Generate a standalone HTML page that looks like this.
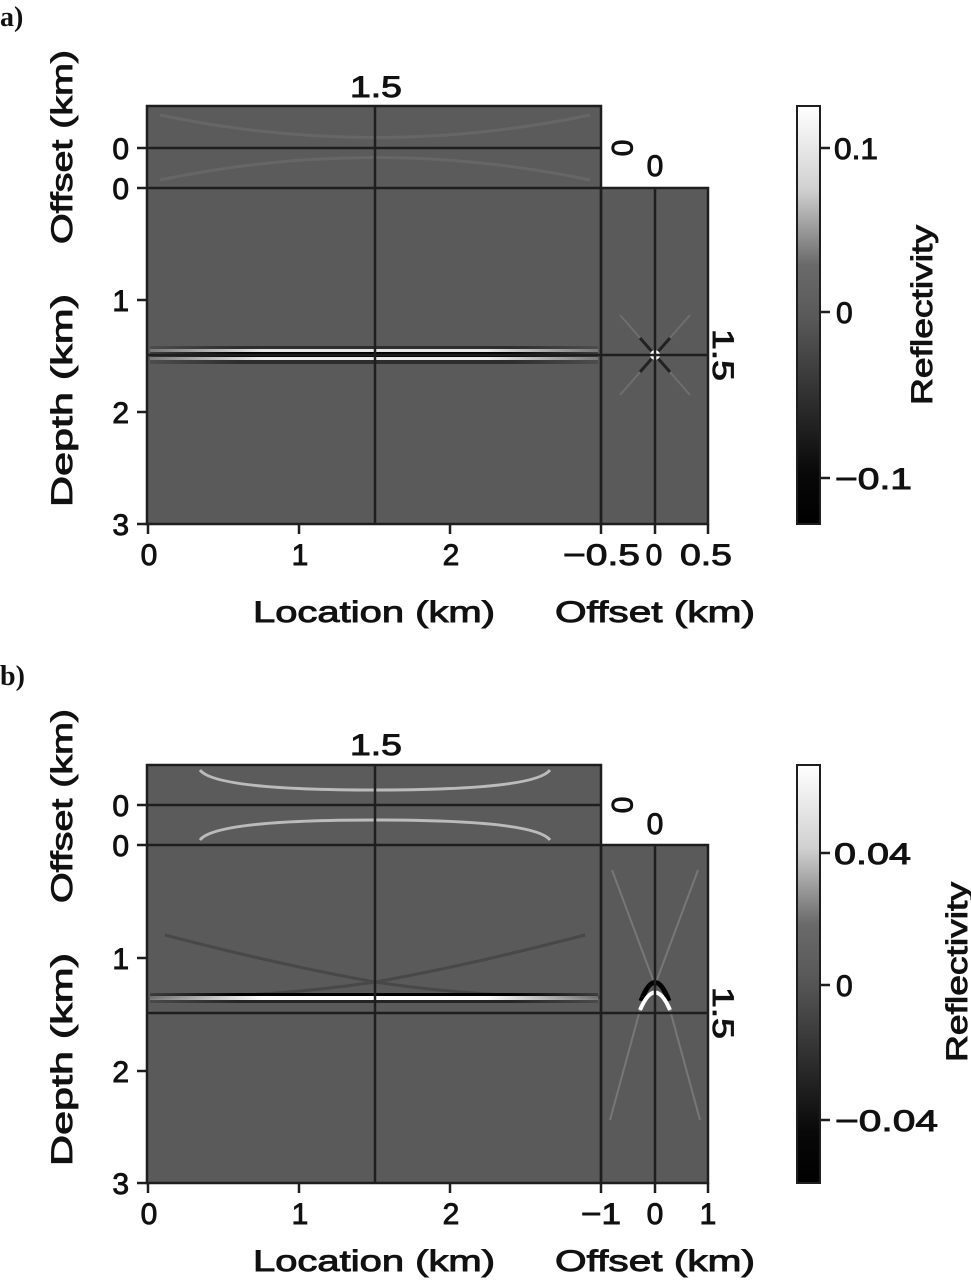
<!DOCTYPE html>
<html><head><meta charset="utf-8"><style>
html,body{margin:0;padding:0;background:#fff;}
svg{display:block;}
text{font-family:"Liberation Sans",sans-serif;font-weight:normal;fill:#111;stroke:#111;stroke-width:0.9px;font-size:30px;}
.lab{font-family:"Liberation Serif",serif;font-size:28px;font-weight:bold;stroke:none;}
</style></head><body>
<svg width="971" height="1280" viewBox="0 0 971 1280" xmlns="http://www.w3.org/2000/svg">
<defs>
<linearGradient id="cb" x1="0" y1="1" x2="0" y2="0">
<stop offset="0" stop-color="#000"/><stop offset="0.12" stop-color="#080808"/>
<stop offset="0.35" stop-color="#3a3a3a"/><stop offset="0.5" stop-color="#5a5a5a"/>
<stop offset="0.62" stop-color="#6a6a6a"/><stop offset="0.8" stop-color="#d0d0d0"/><stop offset="1" stop-color="#fff"/>
</linearGradient>
<linearGradient id="fadeH" x1="0" y1="0" x2="1" y2="0">
<stop offset="0" stop-opacity="0.2" stop-color="#fff"/><stop offset="0.25" stop-opacity="1" stop-color="#fff"/>
<stop offset="0.75" stop-opacity="1" stop-color="#fff"/><stop offset="1" stop-opacity="0.2" stop-color="#fff"/>
</linearGradient>
<linearGradient id="fadeHk" x1="0" y1="0" x2="1" y2="0">
<stop offset="0" stop-opacity="0.3" stop-color="#000"/><stop offset="0.2" stop-opacity="1" stop-color="#000"/>
<stop offset="0.8" stop-opacity="1" stop-color="#000"/><stop offset="1" stop-opacity="0.3" stop-color="#000"/>
</linearGradient>
</defs>

<!-- ===== Panel a ===== -->
<text class="lab" x="0" y="26">a)</text>
<rect x="147" y="106" width="454" height="82" fill="#5b5b5b"/>
<rect x="147" y="188" width="454" height="336" fill="#5a5a5a"/>
<rect x="601" y="188" width="107" height="336" fill="#5a5a5a"/>
<path d="M160 115 Q375 160 590 115" stroke="#666" stroke-width="3" fill="none"/>
<path d="M160 180 Q375 135 590 180" stroke="#666" stroke-width="3" fill="none"/>
<rect x="150" y="346" width="448" height="3" fill="url(#fadeHk)" opacity="0.5"/>
<rect x="150" y="349" width="448" height="3" fill="url(#fadeH)" opacity="0.85"/>
<rect x="150" y="352" width="448" height="5" fill="url(#fadeHk)"/>
<rect x="150" y="357" width="448" height="3" fill="url(#fadeH)" opacity="0.9"/>
<rect x="150" y="360" width="448" height="4" fill="url(#fadeHk)" opacity="0.5"/>
<path d="M620 315 L690 395 M690 315 L620 395" stroke="#6e6e6e" stroke-width="2"/>
<path d="M640 338 L670 372 M670 338 L640 372" stroke="#222" stroke-width="3"/>
<circle cx="655" cy="355" r="5" fill="#fff"/>
<g stroke="#1e1e1e" stroke-width="2.5" fill="none">
<rect x="147" y="106" width="454" height="418"/>
<rect x="601" y="188" width="107" height="336"/>
<line x1="147" y1="148" x2="601" y2="148"/>
<line x1="147" y1="188" x2="601" y2="188"/>
<line x1="375" y1="106" x2="375" y2="524"/>
<line x1="147" y1="355" x2="708" y2="355"/>
<line x1="655" y1="188" x2="655" y2="524"/>
<line x1="137" y1="148" x2="147" y2="148"/><line x1="137" y1="188" x2="147" y2="188"/>
<line x1="137" y1="300" x2="147" y2="300"/><line x1="137" y1="412" x2="147" y2="412"/><line x1="137" y1="524" x2="147" y2="524"/>
<line x1="148" y1="524" x2="148" y2="534"/><line x1="299" y1="524" x2="299" y2="534"/><line x1="450" y1="524" x2="450" y2="534"/>
<line x1="601" y1="524" x2="601" y2="534"/><line x1="655" y1="524" x2="655" y2="534"/><line x1="708" y1="524" x2="708" y2="534"/>
</g>
<text x="376" y="97" text-anchor="middle" textLength="52" lengthAdjust="spacingAndGlyphs">1.5</text>
<text x="129" y="159" text-anchor="end">0</text>
<text x="129" y="199" text-anchor="end">0</text>
<text x="129" y="311" text-anchor="end">1</text>
<text x="129" y="423" text-anchor="end">2</text>
<text x="129" y="535" text-anchor="end">3</text>
<text x="149" y="565" text-anchor="middle">0</text>
<text x="300" y="565" text-anchor="middle">1</text>
<text x="451" y="565" text-anchor="middle">2</text>
<text x="563" y="565" textLength="77" lengthAdjust="spacingAndGlyphs">−0.5</text>
<text x="654" y="565" text-anchor="middle">0</text>
<text x="680" y="565" textLength="52" lengthAdjust="spacingAndGlyphs">0.5</text>
<text x="655" y="176" text-anchor="middle">0</text>
<text transform="translate(612,148) rotate(90)" text-anchor="middle">0</text>
<text transform="translate(713,355) rotate(90)" text-anchor="middle" textLength="52" lengthAdjust="spacingAndGlyphs">1.5</text>
<text x="253" y="622" textLength="242" lengthAdjust="spacingAndGlyphs">Location (km)</text>
<text x="555" y="622" textLength="200" lengthAdjust="spacingAndGlyphs">Offset (km)</text>
<text transform="translate(72,244) rotate(-90)" textLength="194" lengthAdjust="spacingAndGlyphs">Offset (km)</text>
<text transform="translate(72,507) rotate(-90)" textLength="213" lengthAdjust="spacingAndGlyphs">Depth (km)</text>
<rect x="797" y="106" width="23" height="418" fill="url(#cb)" stroke="#1e1e1e" stroke-width="2"/>
<g stroke="#1e1e1e" stroke-width="2.5"><line x1="820" y1="148" x2="830" y2="148"/><line x1="820" y1="312" x2="830" y2="312"/><line x1="820" y1="478" x2="830" y2="478"/></g>
<text x="834" y="159" textLength="44" lengthAdjust="spacingAndGlyphs">0.1</text>
<text x="836" y="323">0</text>
<text x="835" y="489" textLength="77" lengthAdjust="spacingAndGlyphs">−0.1</text>
<text transform="translate(932,405) rotate(-90)" textLength="180" lengthAdjust="spacingAndGlyphs">Reflectivity</text>

<!-- ===== Panel b ===== -->
<text class="lab" x="0" y="685">b)</text>
<rect x="147" y="765" width="454" height="80" fill="#5b5b5b"/>
<rect x="147" y="845" width="454" height="338" fill="#5a5a5a"/>
<rect x="601" y="845" width="107" height="338" fill="#5a5a5a"/>
<path d="M200 770 Q215 790 375 790 Q535 790 550 770" stroke="#bbb" stroke-width="3" fill="none"/>
<path d="M200 840 Q215 820 375 820 Q535 820 550 840" stroke="#bbb" stroke-width="3" fill="none"/>
<path d="M165 935 Q280 965 375 982 Q480 998 600 997" stroke="#484848" stroke-width="3" fill="none"/>
<path d="M585 935 Q470 965 375 982 Q270 998 150 997" stroke="#484848" stroke-width="3" fill="none"/>
<rect x="150" y="993" width="448" height="3" fill="url(#fadeHk)"/>
<rect x="150" y="996" width="448" height="4" fill="url(#fadeH)"/>
<rect x="150" y="1000" width="448" height="3" fill="url(#fadeHk)" opacity="0.6"/>
<path d="M612 870 L655 985 L698 870" stroke="#777" stroke-width="2" fill="none"/>
<path d="M610 1120 L640 1010 M700 1120 L670 1010" stroke="#777" stroke-width="2" fill="none"/>
<path d="M641 1007 Q655 970 669 1007" stroke="#000" stroke-width="5" fill="none" transform="translate(0,-6)"/>
<path d="M640 1010 Q655 975 670 1010" stroke="#fff" stroke-width="4" fill="none"/>
<g stroke="#1e1e1e" stroke-width="2.5" fill="none">
<rect x="147" y="765" width="454" height="418"/>
<rect x="601" y="845" width="107" height="338"/>
<line x1="147" y1="805" x2="601" y2="805"/>
<line x1="147" y1="845" x2="601" y2="845"/>
<line x1="375" y1="765" x2="375" y2="1183"/>
<line x1="147" y1="1013" x2="708" y2="1013"/>
<line x1="655" y1="845" x2="655" y2="1183"/>
<line x1="137" y1="805" x2="147" y2="805"/><line x1="137" y1="845" x2="147" y2="845"/>
<line x1="137" y1="958" x2="147" y2="958"/><line x1="137" y1="1071" x2="147" y2="1071"/><line x1="137" y1="1183" x2="147" y2="1183"/>
<line x1="148" y1="1183" x2="148" y2="1193"/><line x1="299" y1="1183" x2="299" y2="1193"/><line x1="450" y1="1183" x2="450" y2="1193"/>
<line x1="601" y1="1183" x2="601" y2="1193"/><line x1="655" y1="1183" x2="655" y2="1193"/><line x1="708" y1="1183" x2="708" y2="1193"/>
</g>
<text x="376" y="755" text-anchor="middle" textLength="52" lengthAdjust="spacingAndGlyphs">1.5</text>
<text x="129" y="816" text-anchor="end">0</text>
<text x="129" y="856" text-anchor="end">0</text>
<text x="129" y="969" text-anchor="end">1</text>
<text x="129" y="1082" text-anchor="end">2</text>
<text x="129" y="1194" text-anchor="end">3</text>
<text x="149" y="1224" text-anchor="middle">0</text>
<text x="300" y="1224" text-anchor="middle">1</text>
<text x="451" y="1224" text-anchor="middle">2</text>
<text x="601" y="1224" text-anchor="middle" textLength="40" lengthAdjust="spacingAndGlyphs">−1</text>
<text x="655" y="1224" text-anchor="middle">0</text>
<text x="708" y="1224" text-anchor="middle">1</text>
<text x="655" y="834" text-anchor="middle">0</text>
<text transform="translate(612,805) rotate(90)" text-anchor="middle">0</text>
<text transform="translate(713,1013) rotate(90)" text-anchor="middle" textLength="52" lengthAdjust="spacingAndGlyphs">1.5</text>
<text x="253" y="1271" textLength="242" lengthAdjust="spacingAndGlyphs">Location (km)</text>
<text x="555" y="1271" textLength="200" lengthAdjust="spacingAndGlyphs">Offset (km)</text>
<text transform="translate(72,903) rotate(-90)" textLength="194" lengthAdjust="spacingAndGlyphs">Offset (km)</text>
<text transform="translate(72,1166) rotate(-90)" textLength="213" lengthAdjust="spacingAndGlyphs">Depth (km)</text>
<rect x="797" y="765" width="23" height="418" fill="url(#cb)" stroke="#1e1e1e" stroke-width="2"/>
<g stroke="#1e1e1e" stroke-width="2.5"><line x1="820" y1="853" x2="830" y2="853"/><line x1="820" y1="985" x2="830" y2="985"/><line x1="820" y1="1120" x2="830" y2="1120"/></g>
<text x="834" y="864" textLength="77" lengthAdjust="spacingAndGlyphs">0.04</text>
<text x="836" y="996">0</text>
<text x="835" y="1131" textLength="103" lengthAdjust="spacingAndGlyphs">−0.04</text>
<text transform="translate(967,1062) rotate(-90)" textLength="180" lengthAdjust="spacingAndGlyphs">Reflectivity</text>
</svg>
</body></html>
